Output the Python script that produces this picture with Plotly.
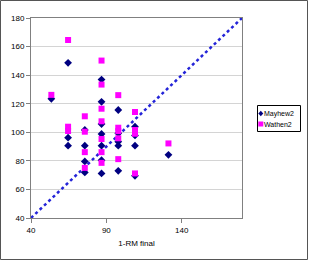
import plotly.graph_objects as go

# ---- data ----
mayhew_x = [53.5, 64.6, 64.6, 64.6, 75.7, 75.7, 75.7, 75.7,
            86.8, 86.8, 86.8, 86.8, 86.8, 86.8, 86.8,
            97.9, 97.9, 97.9, 97.9, 97.9, 109, 109, 109, 109, 131.2]
mayhew_y = [123.4, 148.6, 96.2, 90.6, 101.6, 90.6, 79.6, 71.9,
            136.9, 121.3, 105.8, 98.8, 90.6, 80.5, 71.2,
            115.6, 99.3, 93.4, 90.6, 73.0, 103.9, 97.8, 90.6, 69.5, 84.2]
wathen_x = mayhew_x
wathen_y = [126.2, 164.6, 103.9, 100.9, 111.2, 100.4, 86.1, 75.1,
            150.2, 133.4, 116.5, 107.7, 95.3, 86.1, 78.6,
            126.0, 103.2, 100.8, 95.8, 81.2, 114.2, 101.6, 99.0, 71.2, 92.2]
identity = [40, 180]
x_ticks = [40, 90, 140]
y_ticks = [40, 60, 80, 100, 120, 140, 160, 180]
series_names = ["Mayhew2", "Wathen2"]
series_colors = ["#000080", "#ff00ff"]
x_title = "1-RM final"

W, H = 310, 261
L, R, T, B = 31, 68, 18, 43
PW, PH = W - L - R, H - T - B

def px(x):
    return (x - L) / PW

def py(y):
    return (H - B - y) / PH

fig = go.Figure()
fig.add_trace(go.Scatter(x=identity, y=identity, mode="lines",
                         line=dict(color="#2424d8", width=2.5, dash="dot"),
                         showlegend=False, hoverinfo="skip"))
fig.add_trace(go.Scatter(x=mayhew_x, y=mayhew_y, mode="markers", name=series_names[0],
                         marker=dict(symbol="diamond", size=6, color=series_colors[0])))
fig.add_trace(go.Scatter(x=wathen_x, y=wathen_y, mode="markers", name=series_names[1],
                         marker=dict(symbol="square", size=6, color=series_colors[1])))

font = dict(family="Liberation Sans, Arial", size=8, color="black")
fig.update_layout(
    width=W, height=H, margin=dict(l=L, r=R, t=T, b=B),
    paper_bgcolor="white", plot_bgcolor="white",
    showlegend=False, font=font,
    xaxis=dict(range=[40, 180], tickvals=x_ticks, ticks="outside", ticklen=4,
               tickcolor="#808080", showline=True, linecolor="#808080", linewidth=1,
               mirror=True, showgrid=False, zeroline=False,
               title=dict(text=x_title, font=font, standoff=6)),
    yaxis=dict(range=[40, 180], tickvals=y_ticks, ticks="outside", ticklen=4,
               tickcolor="#808080", showline=True, linecolor="#808080", linewidth=1,
               mirror=True, showgrid=True, gridcolor="#d4d4d4", gridwidth=1,
               zeroline=False),
)

# outer chart border
fig.add_shape(type="rect", xref="paper", yref="paper",
              x0=px(0.5), x1=px(307.5), y0=py(259.5), y1=py(0.5),
              line=dict(color="#555555", width=1), layer="above")
# legend box
fig.add_shape(type="rect", xref="paper", yref="paper",
              x0=px(257.5), x1=px(300.5), y0=py(131.5), y1=py(105.5),
              line=dict(color="black", width=1), fillcolor="white", layer="above")
# legend markers
cx, cy1, cy2 = 260.8, 113.5, 124.0
fig.add_shape(type="path", xref="paper", yref="paper",
              path=(f"M {px(cx - 2.5)},{py(cy1)} L {px(cx)},{py(cy1 - 2.8)} "
                    f"L {px(cx + 2.5)},{py(cy1)} L {px(cx)},{py(cy1 + 2.8)} Z"),
              fillcolor=series_colors[0], line=dict(width=0), layer="above")
fig.add_shape(type="rect", xref="paper", yref="paper",
              x0=px(cx - 2.5), x1=px(cx + 2.5), y0=py(cy2 + 2.5), y1=py(cy2 - 2.5),
              fillcolor=series_colors[1], line=dict(width=0), layer="above")
for name, yy in zip(series_names, [cy1, cy2]):
    fig.add_annotation(xref="paper", yref="paper", x=px(263.5), y=py(yy),
                       xanchor="left", yanchor="middle", showarrow=False,
                       borderpad=0, borderwidth=0, text=name,
                       font=dict(family="Liberation Sans, Arial", size=7, color="black"))

fig.write_html("out.html")
